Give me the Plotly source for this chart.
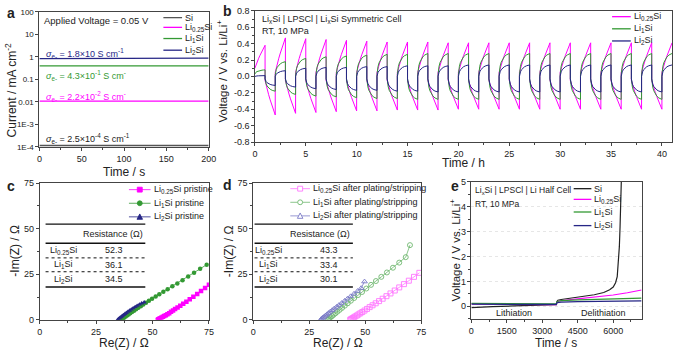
import plotly.graph_objects as go

# ---------------- data ----------------
a_time = [0, 200]
a_si = [1.15e-4, 1.15e-4]
a_li025 = [0.0108, 0.0108]
a_li1 = [0.40, 0.40]
a_li2 = [0.84, 0.88]
a_sigma = ["1.8×10", "4.3×10<sup>-1</sup>", "2.2×10<sup>-2</sup>", "2.5×10<sup>-4</sup>"]
a_yticks = [1e-4, 1e-3, 0.01, 0.1, 1, 10, 100]
a_yticktext = ["1E-4", "1E-3", "0.01", "0.1", "1", "10", "100"]

b_mag_start = [0.10] + [-0.05, 0.05] * 20
b_mag_end = [0.38, -0.47, 0.47, -0.45, 0.46, -0.44, 0.45, -0.43, 0.44, -0.42, 0.43, -0.42,
             0.42, -0.41, 0.42, -0.41, 0.42, -0.41, 0.41, -0.40, 0.41, -0.40, 0.41, -0.40,
             0.41, -0.40, 0.41, -0.40, 0.41, -0.40, 0.41, -0.40, 0.41, -0.40, 0.41, -0.40,
             0.41, -0.40, 0.41, -0.40, 0.41]
b_gr_start = [0.03] + [-0.03, 0.02] * 20
b_gr_end = [0.08, -0.18, 0.18, -0.22, 0.22, -0.24, 0.24, -0.25, 0.25, -0.26, 0.26, -0.27,
            0.27, -0.27, 0.27, -0.28, 0.28, -0.28, 0.28, -0.28, 0.28, -0.28, 0.28, -0.28,
            0.28, -0.28, 0.28, -0.28, 0.28, -0.28, 0.28, -0.28, 0.28, -0.28, 0.28, -0.28,
            0.28, -0.28, 0.28, -0.28, 0.28]
b_nv_start = [0.0] + [-0.03, 0.0] * 20
b_nv_end = [0.01, -0.11, 0.07, -0.13, 0.10, -0.15, 0.11, -0.16, 0.11, -0.17, 0.12, -0.17,
            0.12, -0.18, 0.13, -0.18, 0.13, -0.19, 0.13, -0.19, 0.14, -0.19, 0.14, -0.19,
            0.14, -0.19, 0.14, -0.19, 0.14, -0.19, 0.14, -0.19, 0.14, -0.19, 0.14, -0.19,
            0.14, -0.19, 0.14, -0.19, 0.14]
b_frac = [0, 0.05, 0.1, 0.2, 0.35, 0.5, 0.7, 0.85, 1.0]
b_shape_lin = [0, 0.07, 0.13, 0.25, 0.41, 0.56, 0.75, 0.88, 1.0]
b_shape_cur = [0, 0.25, 0.40, 0.58, 0.74, 0.84, 0.93, 0.97, 1.0]
b_yticks = [-0.8, -0.6, -0.4, -0.2, 0.0, 0.2, 0.4, 0.6, 0.8]
b_yticktext = ["-0.8", "-0.6", "-0.4", "-0.2", "0.0", "0.2", "0.4", "0.6", "0.8"]

c_li025_re = [52.3, 52.6, 53.0, 53.5, 54.0, 54.6, 55.2, 55.9, 56.6, 57.4, 58.2, 59.1, 60.0,
              61.1, 62.3, 63.6, 65.0, 66.5, 68.1, 69.8, 71.5, 73.3, 75.0]
c_li025_im = [0.0, 0.3, 0.6, 0.9, 1.3, 1.7, 2.1, 2.6, 3.1, 3.7, 4.4, 5.1, 5.9,
              6.8, 7.8, 8.9, 10.0, 11.3, 12.7, 14.2, 15.8, 17.5, 19.2]
c_li1_re = [36.1, 36.5, 37.0, 37.5, 38.1, 38.7, 39.4, 40.1, 40.9, 41.8, 42.7, 43.7, 44.8, 45.9,
            47.1, 48.4, 49.8, 51.4, 53.0, 54.8, 56.7, 58.8, 61.0, 63.3, 65.8, 68.4, 71.1, 74.0]
c_li1_im = [0.0, 0.4, 0.8, 1.3, 1.8, 2.4, 3.0, 3.6, 4.3, 5.0, 5.8, 6.6, 7.5, 8.4,
            9.4, 10.5, 11.6, 12.8, 14.0, 15.4, 16.8, 18.4, 20.0, 21.8, 23.8, 25.8, 28.0, 30.3]
c_li2_re = [34.5, 34.8, 35.2, 35.6, 36.1, 36.6, 37.2, 37.8, 38.4, 39.1, 39.8, 40.6, 41.4,
            42.3, 43.2, 44.2, 45.2, 46.3]
c_li2_im = [0.0, 0.4, 0.8, 1.2, 1.7, 2.2, 2.7, 3.3, 3.9, 4.5, 5.1, 5.7, 6.4,
            7.1, 7.8, 8.5, 9.1, 9.6]
c_res = ["52.3", "36.1", "34.5"]

d_li025_re = [43.3, 43.6, 44.0, 44.5, 45.0, 45.6, 46.3, 47.0, 47.8, 48.7, 49.7, 50.8, 52.0,
              53.3, 54.7, 56.2, 57.8, 59.5, 61.3, 63.2, 65.2, 67.3, 69.5, 71.8, 74.2]
d_li025_im = [0.0, 0.3, 0.6, 1.0, 1.4, 1.9, 2.4, 3.0, 3.6, 4.3, 5.1, 6.0, 7.0,
              8.0, 9.1, 10.3, 11.6, 13.0, 14.5, 16.1, 17.8, 19.6, 21.5, 23.6, 25.8]
d_li1_re = [33.4, 33.7, 34.1, 34.6, 35.2, 35.9, 36.7, 37.6, 38.6, 39.7, 40.9, 42.2, 43.6,
            45.1, 46.8, 48.6, 50.5, 52.6, 54.8, 57.2, 59.7, 62.4, 65.2, 68.1, 70.0]
d_li1_im = [0.0, 0.4, 0.9, 1.5, 2.1, 2.8, 3.6, 4.5, 5.5, 6.6, 7.8, 9.1, 10.5,
            12.0, 13.6, 15.3, 17.2, 19.2, 21.3, 23.6, 26.0, 28.6, 31.4, 34.4, 41.0]
d_li2_re = [30.1, 30.4, 30.8, 31.2, 31.7, 32.3, 32.9, 33.6, 34.4, 35.3, 36.2, 37.2, 38.3,
            39.5, 40.8, 42.1, 43.5, 45.0, 46.6, 48.2, 49.7]
d_li2_im = [0.0, 0.4, 0.8, 1.3, 1.8, 2.4, 3.0, 3.7, 4.5, 5.3, 6.2, 7.1, 8.1,
            9.2, 10.4, 11.6, 12.9, 14.3, 15.8, 17.4, 21.0]
d_res = ["43.3", "33.4", "30.1"]

e_si_t = [0, 300, 900, 1800, 2700, 3550, 3600, 3620, 3660, 3800, 4200, 4700, 5200, 5600,
          5850, 6000, 6100, 6170, 6220, 6260, 6290, 6320, 6345]
e_si_v = [-0.05, -0.03, -0.01, 0.02, 0.04, 0.06, 0.07, 0.20, 0.25, 0.28, 0.33, 0.39, 0.47,
          0.56, 0.67, 0.78, 0.95, 1.20, 1.70, 2.40, 3.20, 4.20, 5.10]
e_li025_t = [0, 600, 1800, 3000, 3590, 3620, 3700, 4200, 4800, 5400, 6000, 6600, 7200]
e_li025_v = [0.10, 0.09, 0.08, 0.075, 0.07, 0.18, 0.22, 0.27, 0.33, 0.39, 0.46, 0.55, 0.66]
e_li1_t = [0, 1800, 3590, 3620, 3800, 4500, 5400, 6300, 7200]
e_li1_v = [0.12, 0.11, 0.10, 0.20, 0.23, 0.26, 0.29, 0.31, 0.33]
e_li2_t = [0, 1800, 3590, 3620, 3800, 4500, 5400, 6300, 7200]
e_li2_v = [0.09, 0.09, 0.08, 0.15, 0.17, 0.19, 0.20, 0.21, 0.22]
e_yticks = [0, 1, 2, 3, 4, 5]

W, H = 685, 355
FONT = "Arial, Liberation Sans, sans-serif"
BLK = "#222222"
GRY = "#555555"
MAG = "#ff00ff"
GRN = "#339933"
NAV = "#262686"
MAG_L = "#ff77ff"
GRN_L = "#6fb86f"
NAV_L = "#7b7bc6"

BOX_A = (37, 209, 7, 146)
BOX_B = (256, 680, 6, 141)
BOX_C = (37.3, 209.3, 183.3, 324)
BOX_D = (254.3, 425, 183.3, 324)
BOX_E = (476, 649, 182, 323)
B_YRANGE = (-0.8, 0.8)
E_YRANGE = (-0.5, 5)


def px(x):
    return x / W


def py(y):
    return 1 - y / H


fig = go.Figure()


def build_half_cycles(starts, ends, shape):
    t, v = [], []
    for i in range(len(ends)):
        for k, f in enumerate(b_frac):
            t.append(i + f)
            v.append(starts[i] + (ends[i] - starts[i]) * shape[k])
    return t, v


for y, c in [(a_si, GRY), (a_li025, MAG), (a_li1, GRN), (a_li2, NAV)]:
    fig.add_trace(go.Scatter(x=a_time, y=y, mode="lines", line=dict(color=c, width=1.3),
                             xaxis="x", yaxis="y", showlegend=False))
for st, en, shp, c in [(b_mag_start, b_mag_end, b_shape_lin, MAG),
                       (b_gr_start, b_gr_end, b_shape_cur, GRN),
                       (b_nv_start, b_nv_end, b_shape_cur, NAV)]:
    t, v = build_half_cycles(st, en, shp)
    fig.add_trace(go.Scatter(x=t, y=v, mode="lines", line=dict(color=c, width=1),
                             xaxis="x2", yaxis="y2", showlegend=False))
for xr, yi, c, sym in [(c_li025_re, c_li025_im, MAG, "square"),
                       (c_li1_re, c_li1_im, GRN, "circle"),
                       (c_li2_re, c_li2_im, NAV, "triangle-up")]:
    fig.add_trace(go.Scatter(x=xr, y=yi, mode="lines+markers", line=dict(color=c, width=0.8),
                             marker=dict(color=c, size=4.5, symbol=sym),
                             xaxis="x3", yaxis="y3", showlegend=False))
for xr, yi, c, sym in [(d_li025_re, d_li025_im, MAG_L, "square-open"),
                       (d_li1_re, d_li1_im, GRN_L, "circle-open"),
                       (d_li2_re, d_li2_im, NAV_L, "triangle-up-open")]:
    fig.add_trace(go.Scatter(x=xr, y=yi, mode="lines+markers", line=dict(color=c, width=0.8),
                             marker=dict(color=c, size=5, symbol=sym, line=dict(width=0.9)),
                             xaxis="x4", yaxis="y4", showlegend=False))
for xt, yv, c in [(e_si_t, e_si_v, BLK), (e_li025_t, e_li025_v, MAG),
                  (e_li1_t, e_li1_v, GRN), (e_li2_t, e_li2_v, NAV)]:
    fig.add_trace(go.Scatter(x=xt, y=yv, mode="lines", line=dict(color=c, width=1.2),
                             xaxis="x5", yaxis="y5", showlegend=False))


def ax(**kw):
    d = dict(showline=True, linecolor="#444", linewidth=1, mirror=True,
             ticks="outside", ticklen=3, tickwidth=1, tickcolor="#444",
             tickfont=dict(size=9, family=FONT, color="#222"),
             showgrid=False, zeroline=False)
    d.update(kw)
    return d


def xdom(box):
    return [px(box[0]), px(box[1])]


def ydom(box):
    return [py(box[3]), py(box[2])]


MINOR = dict(ticks="outside", ticklen=2, tickcolor="#444")

fig.update_layout(
    width=W, height=H, margin=dict(l=0, r=0, t=0, b=0),
    paper_bgcolor="white", plot_bgcolor="white",
    font=dict(family=FONT, color="#222"),
    xaxis=ax(domain=xdom(BOX_A), range=[0, 200], anchor="y", dtick=50,
             minor=dict(MINOR, dtick=25)),
    yaxis=ax(domain=ydom(BOX_A), type="log", range=[-4, 2], anchor="x",
             tickvals=a_yticks, ticktext=a_yticktext,
             tickfont=dict(size=8, family=FONT, color="#222")),
    xaxis2=ax(domain=xdom(BOX_B), range=[0, 41], anchor="y2", dtick=5,
              minor=dict(MINOR, dtick=2.5)),
    yaxis2=ax(domain=ydom(BOX_B), range=list(B_YRANGE), anchor="x2",
              tickvals=b_yticks, showticklabels=False, minor=dict(MINOR, dtick=0.1)),
    xaxis3=ax(domain=xdom(BOX_C), range=[0, 75], anchor="y3", dtick=25,
              minor=dict(MINOR, dtick=12.5)),
    yaxis3=ax(domain=ydom(BOX_C), range=[0, 75], anchor="x3", dtick=25,
              minor=dict(MINOR, dtick=12.5)),
    xaxis4=ax(domain=xdom(BOX_D), range=[0, 75], anchor="y4", dtick=25,
              minor=dict(MINOR, dtick=12.5)),
    yaxis4=ax(domain=ydom(BOX_D), range=[0, 75], anchor="x4", dtick=25,
              minor=dict(MINOR, dtick=12.5)),
    xaxis5=ax(domain=xdom(BOX_E), range=[0, 7200], anchor="y5", dtick=1500,
              minor=dict(MINOR, dtick=750)),
    yaxis5=ax(domain=ydom(BOX_E), range=list(E_YRANGE), anchor="x5",
              tickvals=e_yticks, showticklabels=False,
              minor=dict(MINOR, dtick=0.5), showgrid=True, gridcolor="#e6e6e6",
              griddash="dot", gridwidth=1),
)


def txt(x, y, s, size=10, color="#222", xanchor="left", bold=False, angle=0):
    if bold:
        s = "<b>" + s + "</b>"
    fig.add_annotation(xref="paper", yref="paper", x=px(x), y=py(y), text=s,
                       showarrow=False, xanchor=xanchor, yanchor="middle", textangle=angle,
                       font=dict(size=size, color=color, family=FONT), borderpad=0)


def leg_line(x0, x1, y, color, width=1.3):
    fig.add_shape(type="line", xref="paper", yref="paper", x0=px(x0), x1=px(x1),
                  y0=py(y), y1=py(y), line=dict(color=color, width=width))


def leg_marker(x, y, color, kind, filled=True, s=2.5):
    fill = color if filled else "white"
    if kind == "square":
        fig.add_shape(type="rect", xref="paper", yref="paper", x0=px(x - s), x1=px(x + s),
                      y0=py(y + s), y1=py(y - s), line=dict(color=color, width=0.9), fillcolor=fill)
    elif kind == "circle":
        fig.add_shape(type="circle", xref="paper", yref="paper", x0=px(x - s), x1=px(x + s),
                      y0=py(y + s), y1=py(y - s), line=dict(color=color, width=0.9), fillcolor=fill)
    else:
        path = "M {} {} L {} {} L {} {} Z".format(px(x - s - 0.3), py(y + s), px(x + s + 0.3), py(y + s),
                                                 px(x), py(y - s - 0.5))
        fig.add_shape(type="path", xref="paper", yref="paper", path=path,
                      line=dict(color=color, width=0.9), fillcolor=fill)


TS = 12
txt(123, 172, "Time / s", TS, xanchor="center")
txt(8, 88, "Current / mA cm<sup>-2</sup>", TS, xanchor="center", angle=-90)
txt(468, 163, "Time / h", TS, xanchor="center")
txt(223, 68, "Voltage / V vs. Li/Li<sup>+</sup>", 11.5, xanchor="center", angle=-90)
txt(123, 348, "Re(Z) / Ω", TS, xanchor="center")
txt(12, 253, "-Im(Z) / Ω", TS, xanchor="center", angle=-90)
txt(340, 348, "Re(Z) / Ω", TS, xanchor="center")
txt(230, 253, "-Im(Z) / Ω", TS, xanchor="center", angle=-90)
txt(562, 348, "Time / s", TS, xanchor="center")
txt(459, 252, "Voltage / V vs. Li/Li<sup>+</sup>", 11.5, xanchor="center", angle=-90)


def value_to_row(v, box, rng):
    return box[2] + (rng[1] - v) / (rng[1] - rng[0]) * (box[3] - box[2])


for v, s in zip(b_yticks, b_yticktext):
    txt(BOX_B[0] - 4, value_to_row(v, BOX_B, B_YRANGE), s, 9, xanchor="right")
for v in e_yticks:
    txt(BOX_E[0] - 4, value_to_row(v, BOX_E, E_YRANGE), str(v), 9, xanchor="right")

txt(3, 8, "a", 14, bold=True)
txt(223, 6, "b", 14, bold=True)
txt(3, 186, "c", 14, bold=True)
txt(223, 185, "d", 14, bold=True)
txt(454, 186, "e", 14, bold=True)

txt(41, 16, "Applied Voltage = 0.05 V", 9.5)
sig_y = [50, 73, 94, 137]
sig_c = [NAV, GRN, MAG, BLK]
sig_unit = ["S cm<sup>-1</sup>", "S cm<sup>-</sup>", "S cm<sup>-</sup>", "S cm<sup>-1</sup>"]
for s, yy, c, u in zip(a_sigma, sig_y, sig_c, sig_unit):
    txt(43, yy, "<i>σ</i><sub>e-</sub> = " + s + " " + u, 9, c)
for name, yy, c in [("Si", 13, GRY), ("Li<sub>0.25</sub>Si", 23, MAG),
                    ("Li<sub>1</sub>Si", 34.5, GRN), ("Li<sub>2</sub>Si", 46.5, NAV)]:
    leg_line(163, 182, yy, c)
    txt(184, yy, name, 9)

txt(262, 15, "Li<sub>x</sub>Si | LPSCl | Li<sub>x</sub>Si Symmetric Cell", 9)
txt(262, 27, "RT, 10 MPa", 9)
for name, yy, c in [("Li<sub>0.25</sub>Si", 12, MAG), ("Li<sub>1</sub>Si", 24.5, GRN),
                    ("Li<sub>2</sub>Si", 37, NAV)]:
    leg_line(619, 638, yy, c)
    txt(640, yy, name, 9)

for name, yy, c, k in [("Li<sub>0.25</sub>Si pristine", 190, MAG, "square"),
                       ("Li<sub>1</sub>Si pristine", 204, GRN, "circle"),
                       ("Li<sub>2</sub>Si pristine", 218, NAV, "triangle")]:
    leg_line(128, 150, yy, c, 0.8)
    leg_marker(139, yy, c, k, True)
    txt(152, yy, name, 9)

for name, yy, c, k in [("Li<sub>0.25</sub>Si after plating/stripping", 189, MAG_L, "square"),
                       ("Li<sub>1</sub>Si after plating/stripping", 203, GRN_L, "circle"),
                       ("Li<sub>2</sub>Si after plating/stripping", 217, NAV_L, "triangle")]:
    leg_line(292, 312, yy, c, 0.8)
    leg_marker(302, yy, c, k, False)
    txt(314, yy, name, 9)

row_names = ["Li<sub>0.25</sub>Si", "Li<sub>1</sub>Si", "Li<sub>2</sub>Si"]
row_y = [38.3, 30.3, 22.3]
for xa, ya, x0, x1, xn, xv, xh, vals in [("x3", "y3", 2.6, 46.8, 10.6, 32.9, 32.4, c_res),
                                         ("x4", "y4", 0.6, 44.5, 6.9, 33.7, 29.6, d_res)]:
    for yy, w, dash in [(52.5, 1.4, "solid"), (42.0, 1.4, "solid"), (34.0, 1, "dot"),
                        (26.4, 1, "dot"), (18.0, 1.4, "solid")]:
        fig.add_shape(type="line", xref=xa, yref=ya, x0=x0, x1=x1, y0=yy, y1=yy,
                      line=dict(color="#111", width=w, dash=dash))
    fig.add_annotation(xref=xa, yref=ya, x=xh, y=47.2, text="Resistance (Ω)", showarrow=False,
                       font=dict(size=9, family=FONT, color="#222"))
    for nm, yy, v in zip(row_names, row_y, vals):
        fig.add_annotation(xref=xa, yref=ya, x=xn, y=yy, text=nm, showarrow=False,
                           font=dict(size=9, family=FONT, color="#222"))
        fig.add_annotation(xref=xa, yref=ya, x=xv, y=yy, text=v, showarrow=False,
                           font=dict(size=9, family=FONT, color="#222"))

txt(479, 191, "Li<sub>x</sub>Si | LPSCl | Li Half Cell", 8.5)
txt(479, 205, "RT, 10 MPa", 8.5)
for name, yy, c in [("Si", 189, BLK), ("Li<sub>0.25</sub>Si", 200, MAG),
                    ("Li<sub>1</sub>Si", 213, GRN), ("Li<sub>2</sub>Si", 227, NAV)]:
    leg_line(580, 598, yy, c)
    txt(600, yy, name, 9)
fig.add_annotation(xref="x5", yref="y5", x=1800, y=-0.27, text="Lithiation", showarrow=False,
                   font=dict(size=9, family=FONT, color="#222"))
fig.add_annotation(xref="x5", yref="y5", x=5600, y=-0.27, text="Delithiation", showarrow=False,
                   font=dict(size=9, family=FONT, color="#222"))

fig.write_html("out.html", config={"displayModeBar": False},
               post_script="document.body.style.margin='0';document.body.style.overflow='hidden';")
